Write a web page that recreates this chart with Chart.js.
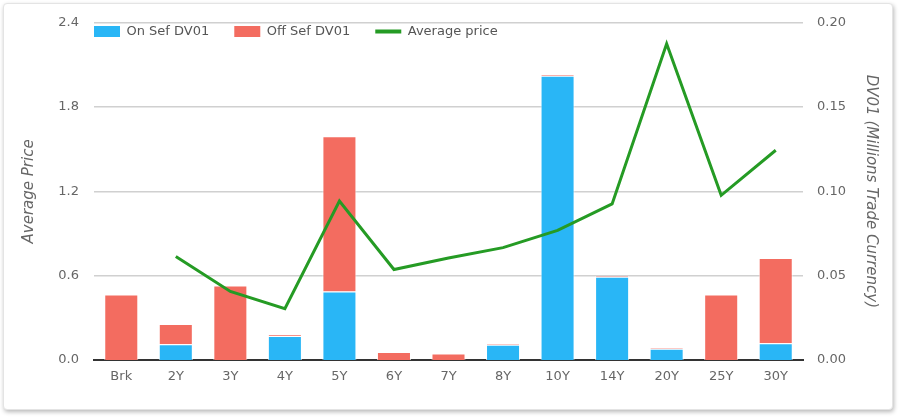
<!DOCTYPE html>
<html>
<head>
<meta charset="utf-8">
<script src="https://cdn.jsdelivr.net/npm/chart.js@4.4.0/dist/chart.umd.min.js"></script>
<style>
    html, body { margin: 0; padding: 0; background: #fff; }
    .card {
        position: absolute; left: 3px; top: 3px; width: 890px; height: 407px;
        box-sizing: border-box; border: 1px solid #e4e4e4; border-radius: 4px;
        box-shadow: 1px 2px 4px rgba(0, 0, 0, 0.28); background: #fff;
    }
    #wrap { position: absolute; left: 0; top: 0; width: 901px; height: 418px; }
</style>
</head>
<body>
<div class="card"></div>
<div id="wrap"><canvas id="dv01Chart"></canvas></div>
<script>
const tenors = ["Brk", "2Y", "3Y", "4Y", "5Y", "6Y", "7Y", "8Y", "10Y", "14Y", "20Y", "25Y", "30Y"];
const onSefDv01 = [0, 0.0093, 0, 0.0143, 0.0407, 0, 0, 0.0091, 0.1686, 0.0494, 0.0066, 0, 0.0099];
const offSefDv01 = [0.0388, 0.0120, 0.0442, 0.0008, 0.0920, 0.0047, 0.0039, 0.0006, 0.0010, 0.0006, 0.0008, 0.0388, 0.0506];
const averagePrice = [null, 0.737, 0.488, 0.365, 1.132, 0.644, 0.726, 0.80, 0.923, 1.111, 2.251, 1.172, 1.493];

const priceTicks = [0, 0.6, 1.2, 1.8, 2.4];
const dv01Ticks = [0, 0.05, 0.10, 0.15, 0.20];

const fontFamily = "'DejaVu Sans', Verdana, sans-serif";
const textColor = '#666';
const legendPad = 25;

// legend takes no room and is drawn over the top-left of the plot
const legendOverlay = {
    id: 'legendOverlay',
    beforeLayout(chart) {
        const lg = chart.legend;
        if (lg && !lg._flat) {
            const fit = lg.fit;
            lg.fit = function() { fit.call(this); this.height = 0; };
            lg._flat = true;
        }
    },
    afterLayout(chart) {
        const lg = chart.legend;
        lg.left = chart.chartArea.left - legendPad;
        lg.right = chart.width;
        lg.top = 25 - legendPad;
        lg.bottom = lg.top + 70;
    }
};

const ctx = document.getElementById('dv01Chart').getContext('2d');
const dv01Chart = new Chart(ctx, {
    data: {
        labels: tenors,
        datasets: [
            {
                type: 'bar',
                label: 'On Sef DV01',
                data: onSefDv01,
                backgroundColor: '#29b6f6',
                borderColor: 'rgba(255,255,255,0.7)',
                borderWidth: 1,
                yAxisID: 'y1',
                order: 2,
                categoryPercentage: 0.8,
                barPercentage: 0.78
            },
            {
                type: 'bar',
                label: 'Off Sef DV01',
                data: offSefDv01,
                backgroundColor: '#f36c60',
                borderColor: 'rgba(255,255,255,0.7)',
                borderWidth: 1,
                yAxisID: 'y1',
                order: 2,
                categoryPercentage: 0.8,
                barPercentage: 0.78
            },
            {
                type: 'line',
                label: 'Average price',
                data: averagePrice,
                borderColor: '#259b24',
                backgroundColor: '#259b24',
                borderWidth: 3,
                pointRadius: 0,
                tension: 0,
                yAxisID: 'y',
                order: 1
            }
        ]
    },
    options: {
        responsive: true,
        maintainAspectRatio: false,
        animation: false,
        layout: { padding: { top: 16, left: 0, right: 0, bottom: 0 } },
        plugins: {
            tooltip: { enabled: false },
            legend: {
                position: 'top',
                align: 'start',
                labels: {
                    color: '#555',
                    font: { family: fontFamily, size: 13 },
                    usePointStyle: true,
                    pointStyleWidth: 26,
                    boxHeight: 11,
                    padding: legendPad,
                    generateLabels(chart) {
                        return chart.data.datasets.map((ds, i) => ({
                            text: ds.label,
                            datasetIndex: i,
                            fillStyle: ds.backgroundColor,
                            strokeStyle: ds.type === 'line' ? ds.borderColor : ds.backgroundColor,
                            lineWidth: ds.type === 'line' ? 4 : 0,
                            pointStyle: ds.type === 'line' ? 'line' : 'rect',
                            fontColor: '#555',
                            hidden: false
                        }));
                    }
                }
            }
        },
        scales: {
            x: {
                stacked: true,
                grid: { display: false, drawTicks: false },
                border: { display: true, color: '#333', width: 2 },
                ticks: { color: textColor, font: { family: fontFamily, size: 13 }, padding: 9 },
                afterFit(scale) { scale.height = 58; }
            },
            y: {
                position: 'left',
                min: 0,
                max: 2.4,
                afterBuildTicks(scale) { scale.ticks = priceTicks.map(v => ({ value: v })); },
                grid: { color: '#d0d0d0', lineWidth: 1.5, drawTicks: false },
                border: { display: false },
                ticks: {
                    color: textColor,
                    font: { family: fontFamily, size: 13 },
                    padding: 15,
                    callback: v => v.toFixed(1)
                },
                title: {
                    display: true,
                    text: 'Average Price',
                    color: textColor,
                    font: { family: fontFamily, size: 15, style: 'italic' },
                    padding: { top: 20, bottom: 0 }
                },
                afterFit(scale) { scale.width = 94; }
            },
            y1: {
                position: 'right',
                stacked: true,
                min: 0,
                max: 0.2,
                afterBuildTicks(scale) { scale.ticks = dv01Ticks.map(v => ({ value: v })); },
                grid: { display: false, drawTicks: false },
                border: { display: false },
                ticks: {
                    color: textColor,
                    font: { family: fontFamily, size: 13 },
                    padding: 14,
                    callback: v => v.toFixed(2)
                },
                title: {
                    display: true,
                    text: 'DV01 (Millions Trade Currency)',
                    color: textColor,
                    font: { family: fontFamily, size: 15, style: 'italic' },
                    padding: { top: 21, bottom: 0 }
                },
                afterFit(scale) { scale.width = 98; }
            }
        }
    },
    plugins: [legendOverlay]
});
</script>
</body>
</html>
